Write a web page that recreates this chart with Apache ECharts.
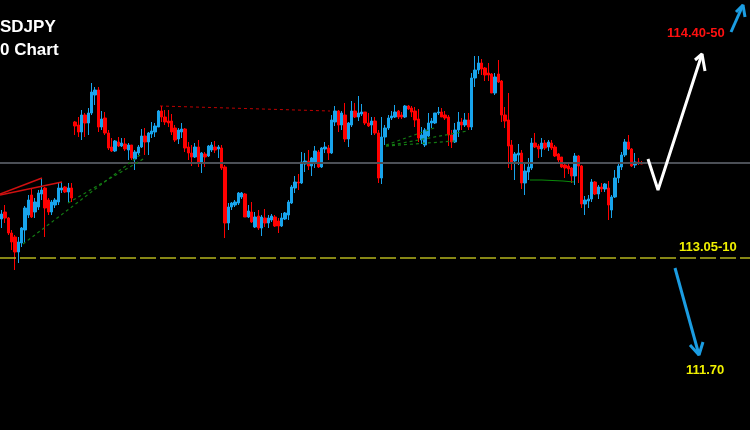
<!DOCTYPE html>
<html>
<head>
<meta charset="utf-8">
<script src="https://cdn.jsdelivr.net/npm/echarts@6/dist/echarts.min.js"></script>
<style>
  html, body { margin: 0; padding: 0; background: #000; }
  #chart { width: 750px; height: 430px; }
</style>
</head>
<body>
<div id="chart"></div>
<script>
// USDJPY candles (open / close / low / high)
const openP = [113.46,113.53,113.47,113.32,113.28,113.13,113.22,113.35,113.50,113.70,
  113.53,113.58,113.71,113.77,113.65,113.53,113.60,113.63,113.75,113.78,
  113.73,113.77,114.43,114.40,114.33,114.50,114.42,114.52,114.70,114.75,
  114.38,114.47,114.32,114.18,114.14,114.23,114.19,114.21,114.15,114.20,
  114.06,114.12,114.18,114.29,114.23,114.31,114.33,114.38,114.54,114.48,
  114.44,114.44,114.37,114.26,114.33,114.36,114.18,114.12,114.08,114.18,
  114.03,114.11,114.09,114.15,114.18,114.16,114.17,113.98,113.42,113.58,
  113.60,113.62,113.68,113.71,113.48,113.53,113.38,113.49,113.37,113.47,
  113.42,113.45,113.48,113.44,113.39,113.46,113.50,113.62,113.77,113.83,
  113.82,114.01,114.04,113.99,114.03,114.13,113.98,114.16,114.17,114.12,
  114.43,114.54,114.40,114.50,114.26,114.40,114.54,114.48,114.51,114.53,
  114.42,114.40,114.44,114.32,113.87,114.28,114.37,114.47,114.48,114.54,
  114.50,114.48,114.59,114.57,114.54,114.46,114.25,114.20,114.29,114.42,
  114.42,114.52,114.53,114.50,114.48,114.30,114.23,114.35,114.43,114.40,
  114.45,114.38,114.87,114.95,115.02,114.97,114.92,114.91,114.72,114.91,
  114.84,114.50,114.45,114.20,114.04,114.10,114.12,113.82,113.93,113.97,
  114.22,114.19,114.16,114.22,114.18,114.22,114.18,114.11,114.08,114.00,
  113.99,113.97,113.89,114.09,113.99,113.61,113.64,113.66,113.83,113.71,
  113.78,113.76,113.77,113.55,113.68,113.87,113.98,114.10,114.23,114.16,
  114.00,114.03,114.02];
const closeP = [113.51,113.47,113.32,113.23,113.13,113.23,113.37,113.57,113.65,113.48,
  113.63,113.72,113.75,113.57,113.53,113.63,113.65,113.77,113.77,113.73,
  113.77,113.67,114.39,114.33,114.50,114.42,114.52,114.73,114.75,114.38,
  114.46,114.32,114.17,114.14,114.24,114.19,114.22,114.16,114.20,114.07,
  114.13,114.18,114.29,114.23,114.32,114.34,114.39,114.54,114.48,114.43,
  114.42,114.33,114.25,114.35,114.36,114.17,114.12,114.08,114.18,114.03,
  114.12,114.08,114.19,114.20,114.15,114.18,113.97,113.42,113.58,113.62,
  113.63,113.72,113.72,113.48,113.54,113.43,113.48,113.37,113.48,113.42,
  113.47,113.49,113.39,113.39,113.47,113.52,113.63,113.78,113.83,113.82,
  114.03,114.04,113.99,114.07,114.14,113.98,114.17,114.18,114.12,114.45,
  114.54,114.40,114.52,114.26,114.42,114.54,114.48,114.52,114.53,114.42,
  114.39,114.44,114.32,113.87,114.28,114.37,114.47,114.49,114.53,114.48,
  114.48,114.59,114.56,114.53,114.45,114.27,114.30,114.35,114.42,114.44,
  114.52,114.53,114.48,114.47,114.30,114.23,114.35,114.43,114.40,114.45,
  114.38,114.87,114.95,115.02,114.96,114.90,114.90,114.72,114.88,114.83,
  114.50,114.44,114.19,114.03,114.11,114.12,113.82,113.94,113.98,114.22,
  114.18,114.16,114.22,114.17,114.23,114.17,114.09,114.05,113.98,113.97,
  113.96,113.89,114.09,113.99,113.61,113.65,113.66,113.83,113.71,113.78,
  113.76,113.81,113.60,113.68,113.87,113.99,114.10,114.23,114.16,113.99,
  114.03,114.02,114.01];
const lowP = [113.37,113.42,113.30,113.15,112.95,113.02,113.18,113.22,113.47,113.47,
  113.47,113.55,113.65,113.28,113.50,113.50,113.57,113.60,113.72,113.72,
  113.63,113.63,114.30,114.28,114.25,114.28,114.30,114.50,114.60,114.33,
  114.35,114.30,114.15,114.13,114.13,114.18,114.18,114.14,114.05,114.05,
  113.95,114.10,114.17,114.10,114.10,114.27,114.28,114.38,114.43,114.40,
  114.38,114.30,114.23,114.21,114.27,114.13,114.05,113.99,114.07,113.98,
  113.92,113.98,114.08,114.13,114.12,114.07,113.95,113.27,113.35,113.55,
  113.58,113.60,113.66,113.48,113.47,113.42,113.37,113.35,113.29,113.38,
  113.37,113.43,113.38,113.32,113.38,113.45,113.45,113.61,113.72,113.75,
  113.81,113.93,113.95,113.89,113.97,113.97,113.97,114.12,114.05,114.11,
  114.39,114.33,114.35,114.23,114.18,114.38,114.47,114.44,114.49,114.40,
  114.38,114.30,114.30,113.82,113.81,114.20,114.35,114.45,114.47,114.46,
  114.46,114.47,114.55,114.48,114.38,114.23,114.21,114.18,114.28,114.37,
  114.41,114.50,114.48,114.45,114.19,114.17,114.22,114.28,114.35,114.38,
  114.35,114.35,114.78,114.91,114.90,114.84,114.84,114.72,114.70,114.82,
  114.43,114.37,113.97,113.95,113.85,114.00,113.76,113.70,113.85,113.95,
  114.17,114.07,114.08,114.15,114.14,114.15,114.08,114.03,113.97,113.87,
  113.91,113.82,113.80,113.82,113.57,113.50,113.57,113.63,113.70,113.66,
  113.73,113.73,113.45,113.47,113.67,113.82,113.95,114.08,114.15,113.98,
  113.97,114.00,114.01];
const highP = [113.55,113.60,113.48,113.35,113.30,113.28,113.38,113.59,113.70,113.77,
  113.67,113.75,113.87,113.78,113.67,113.65,113.67,113.82,113.83,113.79,
  113.82,113.82,114.44,114.48,114.55,114.52,114.57,114.82,114.78,114.78,
  114.54,114.53,114.35,114.27,114.25,114.28,114.27,114.27,114.22,114.20,
  114.15,114.20,114.36,114.37,114.33,114.43,114.42,114.55,114.59,114.55,
  114.55,114.51,114.40,114.37,114.42,114.37,114.23,114.20,114.22,114.25,
  114.13,114.13,114.20,114.23,114.24,114.20,114.20,114.00,113.62,113.63,
  113.65,113.73,113.73,113.72,113.60,113.63,113.53,113.55,113.50,113.56,
  113.50,113.51,113.50,113.47,113.52,113.53,113.65,113.80,113.89,113.91,
  114.13,114.12,114.15,114.08,114.19,114.15,114.18,114.23,114.20,114.50,
  114.59,114.55,114.54,114.62,114.43,114.64,114.62,114.69,114.61,114.53,
  114.52,114.48,114.48,114.35,114.48,114.40,114.50,114.54,114.60,114.55,
  114.53,114.60,114.60,114.59,114.58,114.56,114.38,114.37,114.52,114.47,
  114.52,114.58,114.57,114.54,114.50,114.35,114.42,114.53,114.47,114.52,
  114.52,114.92,115.09,115.09,115.06,114.98,115.02,114.92,114.92,115.05,
  114.85,114.58,114.72,114.25,114.13,114.21,114.15,114.02,114.07,114.27,
  114.32,114.21,114.27,114.25,114.25,114.25,114.20,114.12,114.08,114.02,
  114.02,113.98,114.12,114.10,114.00,113.69,113.70,113.86,113.84,113.80,
  113.82,113.82,113.84,113.70,113.95,114.02,114.13,114.26,114.30,114.17,
  114.12,114.07,114.04];

// price levels
const pivotLevel = 114.02;
const supportLevel = 113.07;

// drawn trendlines and arrows, in (bar index, price)
const redTrends = [[[-0.5, 113.71], [12.1, 113.87]], [[-0.5, 113.70], [18.1, 113.83]]];
const redDotted = [[[47.5, 114.59], [98.5, 114.54]]];
const greenDotted = [
  [[6.4, 113.21], [41.5, 114.10]],
  [[19.9, 113.62], [43.0, 114.07]],
  [[115.3, 114.20], [130.6, 114.38]],
  [[115.3, 114.19], [139.6, 114.34]],
  [[115.3, 114.19], [136.0, 114.24]]
];
const greenLevel = [[158.5, 113.85], [162, 113.85], [162, 113.84], [168.4, 113.84], [168.4, 113.83], [171.7, 113.83]];
const whitePath = [[193.9, 114.06], [196.9, 113.75], [210.1, 115.11]];
const whiteHead = [[208.0, 115.05], [210.1, 115.11], [211.0, 114.94]];
const blueUpPath = [[218.8, 115.33], [222.4, 115.60]];
const blueUpHead = [[220.3, 115.53], [222.4, 115.60], [223.0, 115.48]];
const blueDownPath = [[202.0, 112.97], [209.2, 112.10]];
const blueDownHead = [[206.5, 112.20], [209.2, 112.10], [210.4, 112.23]];

const slots = 225; // candle slots across the whole picture
const categories = Array.from({ length: slots }, (_, i) => String(i));

const candles = openP.map((o, i) => [o, closeP[i], lowP[i], highP[i]]);

function lineSeries(points, color, width, type) {
  return {
    type: 'line',
    xAxisIndex: 1,
    data: points,
    symbol: 'none',
    silent: true,
    animation: false,
    lineStyle: { color: color, width: width, type: type || 'solid' },
    z: 5
  };
}

const series = [{
  type: 'candlestick',
  data: candles,
  barWidth: 3,
  itemStyle: {
    color: '#18a4ec',
    color0: '#ff0000',
    borderColor: '#18a4ec',
    borderColor0: '#ff0000',
    borderWidth: 1
  },
  markLine: {
    silent: true,
    symbol: 'none',
    label: { show: false },
    animation: false,
    data: [
      { yAxis: pivotLevel, lineStyle: { color: '#4b4f56', width: 2, type: 'solid' } },
      { yAxis: supportLevel, lineStyle: { color: '#b4b41c', width: 1.5, type: [16, 4] } }
    ]
  },
  z: 3
}];

redTrends.forEach(p => series.push(lineSeries(p, '#d01010', 1.5)));
redDotted.forEach(p => series.push(lineSeries(p, '#c00000', 1, [3, 3])));
greenDotted.forEach(p => series.push(lineSeries(p, '#137a13', 1.2, [3, 3])));
series.push(lineSeries(greenLevel, '#0a8a0a', 1.2));
series.push(lineSeries(whitePath, '#ffffff', 3));
series.push(lineSeries(whiteHead, '#ffffff', 3));
series.push(lineSeries(blueUpPath, '#1b9de2', 3));
series.push(lineSeries(blueUpHead, '#1b9de2', 3));
series.push(lineSeries(blueDownPath, '#1b9de2', 3));
series.push(lineSeries(blueDownHead, '#1b9de2', 3));

const chart = echarts.init(document.getElementById('chart'));
chart.setOption({
  backgroundColor: '#000000',
  animation: false,
  grid: { left: 0, top: 0, width: 750, height: 430 },
  xAxis: [
    { type: 'category', data: categories, show: false, boundaryGap: true },
    { type: 'value', min: -0.5, max: slots - 0.5, show: false }
  ],
  yAxis: { type: 'value', min: 111.35, max: 115.65, show: false, scale: true },
  series: series,
  graphic: [
    { type: 'text', left: 0, top: 19, style: { text: 'SDJPY', fill: '#ffffff', font: 'bold 17px "Liberation Sans", Arial, sans-serif' } },
    { type: 'text', left: 0, top: 42, style: { text: '0 Chart', fill: '#ffffff', font: 'bold 17px "Liberation Sans", Arial, sans-serif' } },
    { type: 'text', left: 667, top: 27, style: { text: '114.40-50', fill: '#ff1010', font: 'bold 13px "Liberation Sans", Arial, sans-serif' } },
    { type: 'text', left: 679, top: 241, style: { text: '113.05-10', fill: '#f0f000', font: 'bold 13px "Liberation Sans", Arial, sans-serif' } },
    { type: 'text', left: 686, top: 364, style: { text: '111.70', fill: '#f0f000', font: 'bold 13px "Liberation Sans", Arial, sans-serif' } }
  ]
});
</script>
</body>
</html>
